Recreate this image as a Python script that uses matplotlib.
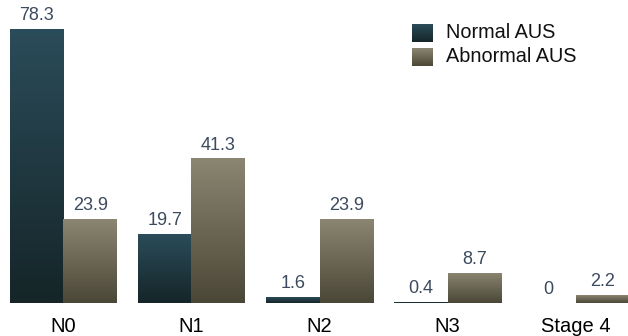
import numpy as np
import matplotlib
matplotlib.use("Agg")
import matplotlib.pyplot as plt
from matplotlib.colors import LinearSegmentedColormap

categories = ["N0", "N1", "N2", "N3", "Stage 4"]
normal_aus = [78.3, 19.7, 1.6, 0.4, 0]
abnormal_aus = [23.9, 41.3, 23.9, 8.7, 2.2]
series_names = ["Normal AUS", "Abnormal AUS"]

normal_top, normal_bot = "#2b4c5a", "#152528"
abn_top, abn_bot = "#8b8671", "#4b4737"
label_color = "#3c4a5e"

plt.rcParams['font.family'] = ['Liberation Sans', 'DejaVu Sans']

fig = plt.figure(figsize=(6.28, 3.36), dpi=100)
ax = fig.add_axes([0, 0, 1, 1])
ax.set_xlim(-0.496, 4.41)
ax.set_ylim(-9.43, 86.57)
ax.axis('off')

w = 0.418
x = np.arange(len(categories))

def grad_bar(xc, h, top, bot):
    if h <= 0:
        return
    bars = ax.bar(xc, h, width=w, color='none', edgecolor='none')
    cmap = LinearSegmentedColormap.from_list("g", [bot, top])
    grad = np.linspace(0, 1, 256).reshape(-1, 1)
    im = ax.imshow(grad, cmap=cmap, origin='lower', aspect='auto',
                   extent=[xc - w / 2, xc + w / 2, 0, h], zorder=2)
    im.set_clip_path(bars[0])

for i in range(len(categories)):
    grad_bar(x[i] - w / 2, normal_aus[i], normal_top, normal_bot)
    grad_bar(x[i] + w / 2, abnormal_aus[i], abn_top, abn_bot)
    ax.text(x[i] - w / 2, normal_aus[i] + 1.4, f"{normal_aus[i]:g}", ha='center',
            va='bottom', fontsize=13, color=label_color)
    ax.text(x[i] + w / 2, abnormal_aus[i] + 1.4, f"{abnormal_aus[i]:g}", ha='center',
            va='bottom', fontsize=13, color=label_color)
    ax.text(x[i], -6.7, categories[i], ha='center', va='center', fontsize=14.5, color='black')

lx0 = (412 - 63.5) / 128
lw = 20 / 128
for j, (top, bot, name) in enumerate([(normal_top, normal_bot, series_names[0]),
                                        (abn_top, abn_bot, series_names[1])]):
    ytop = (303 - 24 - j * 24) / 3.5
    ybot = (303 - 42 - j * 24) / 3.5
    cmap = LinearSegmentedColormap.from_list("g", [bot, top])
    grad = np.linspace(0, 1, 64).reshape(-1, 1)
    ax.imshow(grad, cmap=cmap, origin='lower', aspect='auto',
              extent=[lx0, lx0 + lw, ybot, ytop], zorder=2)
    ax.text((446 - 63.5) / 128, (ytop + ybot) / 2, name, ha='left', va='center',
            fontsize=14.3, color='#111111')

ax.set_xlim(-0.496, 4.41)
ax.set_ylim(-9.43, 86.57)
fig.savefig("out.png", dpi=100)
